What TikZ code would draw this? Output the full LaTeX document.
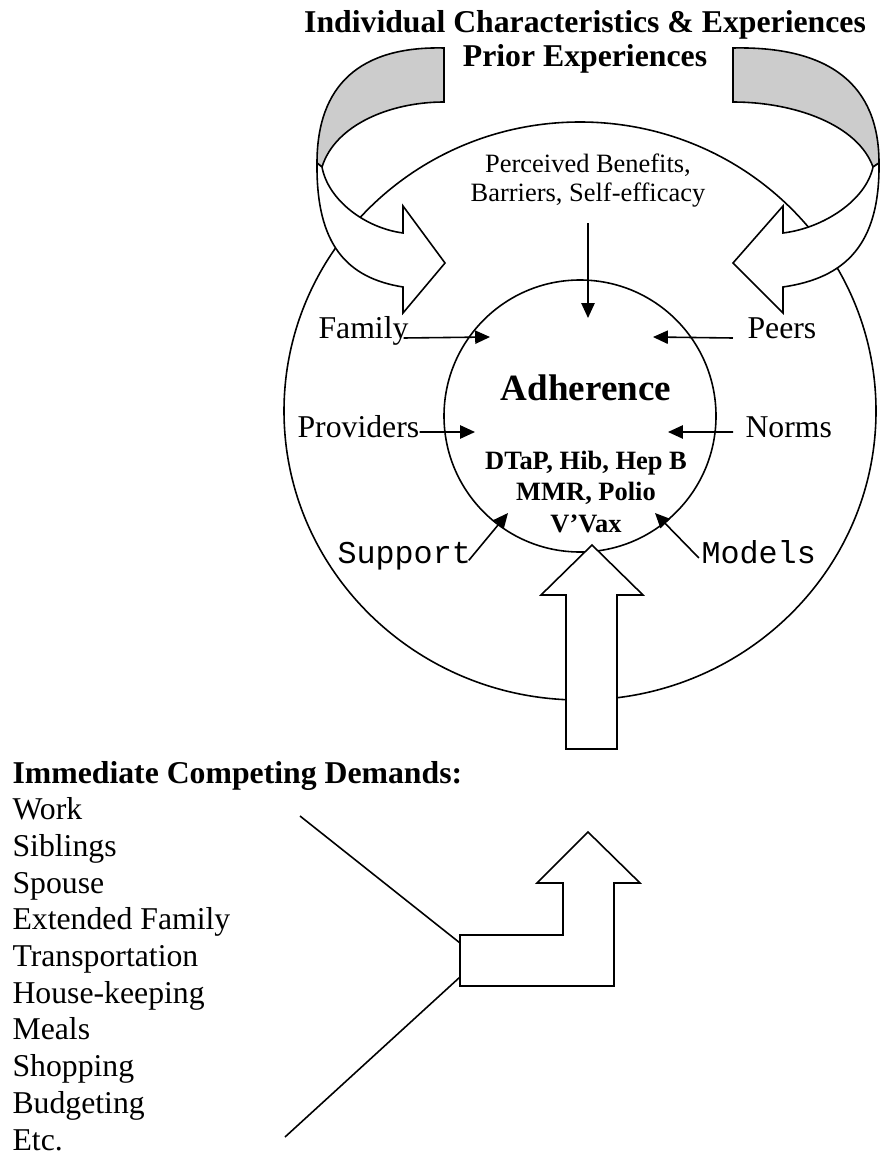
\documentclass[tikz,border=0pt]{standalone}
\usepackage{fontspec}
\setmainfont{Liberation Serif}
\setmonofont{Liberation Mono}
\usetikzlibrary{arrows.meta}

\begin{document}
\begin{tikzpicture}[
  x=0.378pt, y=-0.378pt,
  ring/.style={draw, line width=0.6pt},
  band/.style={draw, line width=0.6pt, fill=white},
  twist/.style={draw, line width=0.6pt, fill=gray!40},
  link/.style={draw, line width=0.6pt},
  ptr/.style={draw, line width=0.6pt, -{Triangle[length=5.6pt, width=5pt]}},
  lbl/.style={font=\fontsize{12}{14}\selectfont, inner sep=0pt, anchor=base west},
  mono/.style={font=\fontsize{12}{14}\ttfamily, inner sep=0pt, anchor=base west}
]
\useasboundingbox (0,0) rectangle (881,1156);

%% ── Circles ───────────────────────────────────────────────────────────────────
\draw[ring] (580,411) ellipse [x radius=296, y radius=289];
\draw[ring] (580,416) circle [radius=136];

%% ── Curved arrows (back side grey, front side white) ─────────────────────────

% left
\draw[twist] (444,48) .. controls (360,46) and (317,85) .. (317,163) --
  (322,167) .. controls (335,125) and (390,102) .. (444,102) -- cycle;
\draw[band] (322,167) .. controls (328,200) and (365,228) .. (403,233) --
  (403,206) -- (445,263) -- (403,313) -- (403,287)
  .. controls (347,278) and (316,245) .. (317,163) -- cycle;

% right
\draw[twist] (733,48) .. controls (830,46) and (879,85) .. (879,163) --
  (873,167) .. controls (858,125) and (795,102) .. (733,102) -- cycle;
\draw[band] (873,167) .. controls (866,200) and (824,228) .. (783,233) --
  (783,206) -- (733,263) -- (783,313) -- (783,287)
  .. controls (845,278) and (880,245) .. (879,163) -- cycle;

%% ── Block arrows ──────────────────────────────────────────────────────────────
\draw[band] (566,749) -- (566,595) -- (541,595) -- (592,545) -- (643,595) --
  (617,595) -- (617,749) -- cycle;

\draw[band] (460,935) -- (563,935) -- (563,883) -- (537,883) -- (588,832) --
  (640,883) -- (614,883) -- (614,986) -- (460,986) -- cycle;

%% ── Texts ─────────────────────────────────────────────────────────────────────
% multi-line nodes sit on the baseline of their last line
\node[font=\fontsize{12}{13.2}\selectfont\bfseries, align=center, anchor=base,
  inner sep=0pt] (indiv) at (585,67)
  {Individual Characteristics \& Experiences\\Prior Experiences};

\node[font=\fontsize{10}{11.3}\selectfont, align=center, anchor=base,
  inner sep=0pt] (benefits) at (588,202)
  {Perceived Benefits,\\Barriers, Self-efficacy};

\node[font=\fontsize{14}{16}\selectfont\bfseries, anchor=base, inner sep=0pt]
  (adherence) at (586,400) {Adherence};

\node[font=\fontsize{10}{11.9}\selectfont\bfseries, align=center, anchor=base,
  inner sep=0pt] (vaccines) at (586,532)
  {DTaP, Hib, Hep B\\MMR, Polio\\V'Vax};

\node[lbl] (family)    at (318,338) {Family};
\node[lbl] (peers)     at (747,338) {Peers};
\node[lbl] (providers) at (297,437) {Providers};
\node[lbl] (norms)     at (745,437) {Norms};
\node[mono] (support)  at (337,563) {Support};
\node[mono] (models)   at (701,563) {Models};

\node[font=\fontsize{12}{13.87}\selectfont, align=left, anchor=base west,
  inner sep=0pt] (demands) at (12,1150)
  {\textbf{Immediate Competing Demands:}\\Work\\Siblings\\Spouse\\
   Extended Family\\Transportation\\House-keeping\\Meals\\Shopping\\
   Budgeting\\Etc.};

%% ── Pointers into Adherence ───────────────────────────────────────────────────
\coordinate (benefittip) at (588,318);
\coordinate (familytip)  at (490,337);
\coordinate (peerstip)   at (653,337);
\coordinate (provtip)    at (475,432);
\coordinate (normstip)   at (668,432);
\coordinate (supporttip) at (508,513);
\coordinate (modelstip)  at (655,513);

\draw[ptr] (benefits.south) ++(0,15) -- (benefittip);
\draw[ptr] ([xshift=-2pt]family.base east) -- (familytip);
\draw[ptr] ([xshift=-5.3pt]peers.base west) -- (peerstip);
\draw[ptr] ([yshift=1.9pt]providers.base east) -- (provtip);
\draw[ptr] ([xshift=-4.5pt, yshift=1.9pt]norms.base west) -- (normstip);
\draw[ptr] ([xshift=-1pt, yshift=1pt]support.base east) -- (supporttip);
\draw[ptr] ([xshift=-0.8pt, yshift=1.9pt]models.base west) -- (modelstip);

%% ── Competing demands lines ───────────────────────────────────────────────────
\coordinate (bendtop) at (460,943);
\coordinate (bendlow) at (460,977);
\coordinate (worktail) at (300,816);
\coordinate (etctail)  at (285,1137);
\draw[link] (worktail) -- (bendtop);
\draw[link] (etctail) -- (bendlow);

\end{tikzpicture}
\end{document}
